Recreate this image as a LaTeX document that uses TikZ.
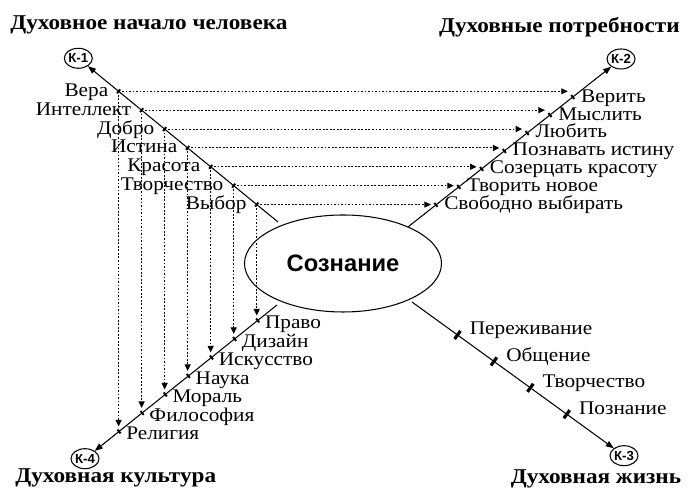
\documentclass[tikz,border=0pt]{standalone}
\usepackage{fontspec}
\setmainfont{Liberation Serif}[FakeStretch=1.1]
\setsansfont{Liberation Sans}
\usetikzlibrary{arrows.meta,calc,positioning,shapes.geometric}

\tikzset{
  axisline/.style = {line width=0.6pt, -{Triangle[length=1.6mm,width=1.2mm]}},
  link/.style = {line width=0.6pt, dash pattern=on 1pt off 1pt,
    -{Triangle[length=1.3mm,width=1.2mm]}, shorten >=0.1cm},
  tickmark/.style = {line width=1.1pt},
  bigtick/.style = {line width=1.8pt},
  kcirc/.style = {ellipse, draw, line width=0.6pt, minimum width=0.56cm,
    minimum height=0.4cm, inner sep=0pt,
    font=\sffamily\bfseries\fontsize{7.5}{9}\selectfont},
  heading/.style = {inner sep=0pt, font=\bfseries\fontsize{12}{14}\selectfont},
  lab/.style = {inner sep=0pt, font=\fontsize{11}{13}\selectfont},
}

\begin{document}
\begin{tikzpicture}
    \useasboundingbox (0,0) rectangle (14,10);

    \node[ellipse, draw, line width=0.6pt, minimum width=3.94cm, minimum height=1.94cm,
      font=\sffamily\bfseries\fontsize{13.5}{16}\selectfont] (soz) at (6.86,4.73) {Сознание};

    \node[kcirc] (k1) at (1.566,8.834) {К-1};
    \node[kcirc] (k2) at (12.42,8.82) {К-2};
    \node[kcirc] (k3) at (12.48,0.886) {К-3};
    \node[kcirc] (k4) at (1.70,0.826) {К-4};

    \node[heading, anchor=base west] (h1) at (0.2,9.4) {Духовное начало человека};
    \node[heading, anchor=base east] (h2) at (13.6,9.35) {Духовные потребности};
    \node[heading, anchor=base east] (h3) at (13.63,0.33) {Духовная жизнь};
    \node[heading, anchor=base west] (h4) at (0.3,0.34) {Духовная культура};

    \coordinate (s1) at (5.56,5.56);
    \coordinate (s2) at (8.166,5.466);
    \coordinate (s3) at (8.24,3.96);
    \coordinate (s4) at (5.54,3.9);

    \draw[axisline] (s1) -- (k1);
    \draw[axisline] (s2) -- (k2);
    \draw[axisline] (s3) -- (k3);
    \draw[axisline] (s4) -- (k4);

    % ticks, labels and dotted links on the three upper/left axes
    \foreach \i/\la/\lb/\lc [evaluate=\i as \ta using 0.1065+(\i-1)*0.1153,
        evaluate=\i as \tb using 0.130+(\i-1)*0.1072,
        evaluate=\i as \tc using 0.1005+(\i-1)*0.1204] in
      {1/Выбор/Свободно выбирать/Право, 2/Творчество/Творить новое/Дизайн,
       3/Красота/Созерцать красоту/Искусство, 4/Истина/Познавать истину/Наука,
       5/Добро/Любить/Мораль, 6/Интеллект/Мыслить/Философия, 7/Вера/Верить/Религия}
    {
      \coordinate (a\i) at ($(s1)!\ta!(k1)$);
      \coordinate (b\i) at ($(s2)!\tb!(k2)$);
      \coordinate (c\i) at ($(s4)!\tc!(k4)$);
      \draw[tickmark] ($(a\i)!0.05cm!90:(k1)$) -- ($(a\i)!0.05cm!-90:(k1)$);
      \draw[tickmark] ($(b\i)!0.05cm!90:(k2)$) -- ($(b\i)!0.05cm!-90:(k2)$);
      \draw[tickmark] ($(c\i)!0.05cm!90:(k4)$) -- ($(c\i)!0.05cm!-90:(k4)$);
      \node[lab, anchor=base east, xshift=-0.2cm, yshift=-0.1cm] (la\i) at (a\i) {\la};
      \node[lab, anchor=base west, xshift=0.16cm, yshift=-0.1cm] (lb\i) at (b\i) {\lb};
      \node[lab, anchor=base west, xshift=0.14cm, yshift=-0.17cm] (lc\i) at (c\i) {\lc};
      \draw[link] (a\i) -- (a\i -| b\i);
      \draw[link] (a\i) -- (a\i |- c\i);
    }

    % the lower right axis
    \foreach \i/\ld [evaluate=\i as \td using 0.2147+(\i-1)*0.1718] in
      {1/Переживание, 2/Общение, 3/Творчество, 4/Познание}
    {
      \coordinate (d\i) at ($(s3)!\td!(k3)$);
      \draw[bigtick] ($(d\i)!0.1cm!90:(k3)$) -- ($(d\i)!0.1cm!-90:(k3)$);
      \node[lab, anchor=base west, xshift=0.24cm] (ld\i) at (d\i) {\ld};
    }
\end{tikzpicture}
\end{document}
